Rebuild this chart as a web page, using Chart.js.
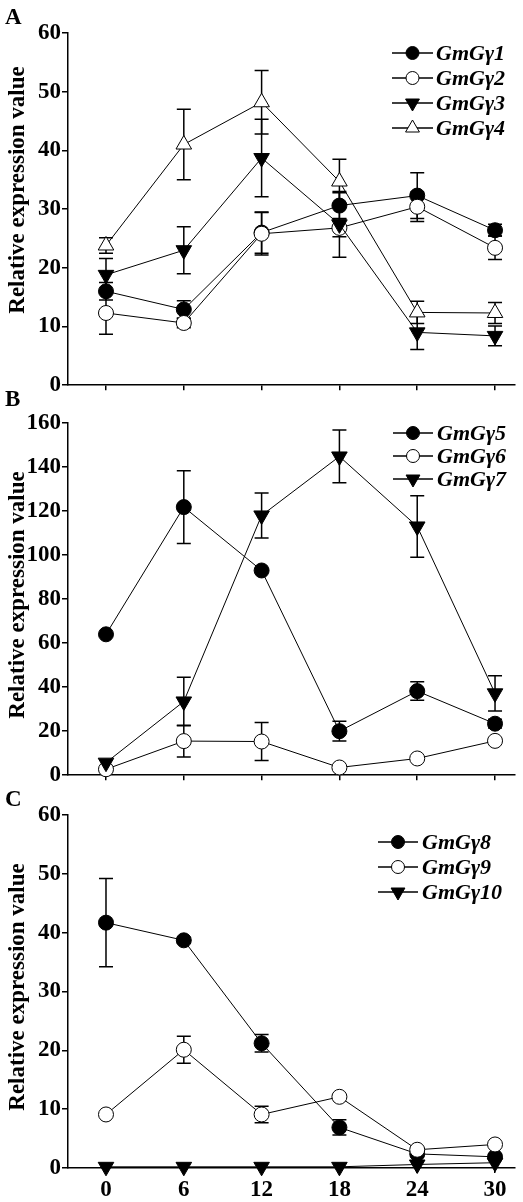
<!DOCTYPE html>
<html>
<head>
<meta charset="utf-8">
<script src="https://cdn.jsdelivr.net/npm/chart.js@4.4.0/dist/chart.umd.min.js"></script>
<style>
  html, body { margin: 0; padding: 0; background: #fff; }
  body { width: 523px; height: 1202px; position: relative; overflow: hidden; }
  .panel { position: absolute; left: 0; width: 523px; }
</style>
</head>
<body>
<div class="panel" style="top:0px;height:400px"><canvas id="chartA" width="523" height="400"></canvas></div>
<div class="panel" style="top:385px;height:405px"><canvas id="chartB" width="523" height="405"></canvas></div>
<div class="panel" style="top:775px;height:427px"><canvas id="chartC" width="523" height="427"></canvas></div>
<script>
// time points (x axis) shared by all panels
const timePoints = [0, 6, 12, 18, 24, 30];

// panel A
const namesA = ['GmGγ1', 'GmGγ2', 'GmGγ3', 'GmGγ4'];
const gamma1 = [16.0, 12.9, 26.0, 30.6, 32.3, 26.4];
const gamma1Err = [1.5, 1.5, 3.5, 2.2, 3.9, 1.0];
const gamma2 = [12.3, 10.6, 25.8, 26.8, 30.4, 23.4];
const gamma2Err = [3.6, 0.8, 3.6, 1.5, 2.5, 2.0];
const gamma3 = [18.8, 23.0, 38.7, 27.4, 9.0, 8.4];
const gamma3Err = [2.8, 4.0, 6.6, 5.6, 2.9, 1.7];
const gamma4 = [23.8, 41.0, 48.2, 34.7, 12.4, 12.3];
const gamma4Err = [1.3, 6.0, 5.4, 3.8, 1.9, 1.8];

// panel B
const namesB = ['GmGγ5', 'GmGγ6', 'GmGγ7'];
const gamma5 = [64.0, 121.8, 93.0, 20.0, 38.2, 23.4];
const gamma5Err = [0, 16.5, 0, 4.5, 4.2, 2.0];
const gamma6 = [2.7, 15.5, 15.3, 3.5, 7.6, 15.6];
const gamma6Err = [0, 7.2, 8.6, 0, 0, 0];
const gamma7 = [5.7, 33.5, 118.0, 144.8, 113.0, 37.2];
const gamma7Err = [0, 11.0, 10.2, 12.0, 14.0, 8.0];

// panel C
const namesC = ['GmGγ8', 'GmGγ9', 'GmGγ10'];
const gamma8 = [41.7, 38.7, 21.2, 6.9, 2.4, 1.9];
const gamma8Err = [7.5, 0.5, 1.5, 1.3, 0.5, 0.5];
const gamma9 = [9.1, 20.1, 9.1, 12.1, 3.1, 4.0];
const gamma9Err = [0, 2.3, 1.4, 0, 0, 0];
const gamma10 = [0.2, 0.2, 0.2, 0.2, 0.6, 0.9];
const gamma10Err = [0, 0, 0, 0, 0, 0];

const yTitle = 'Relative expression value';
const SERIF = '"Liberation Serif", "Times New Roman", serif';

// marker looks: filled circle, open circle, filled down-triangle, open up-triangle
const FILLED_DOT = { shape: 'circle', rotation: 0, fill: '#000', radius: 7.5 };
const OPEN_DOT = { shape: 'circle', rotation: 0, fill: '#fff', radius: 7.5 };
const DOWN_TRI = { shape: 'triangle', rotation: 180, fill: '#000', radius: 9 };
const UP_TRI = { shape: 'triangle', rotation: 0, fill: '#fff', radius: 9 };

function drawMarker(ctx, st, x, y, r) {
    ctx.save();
    ctx.beginPath();
    if (st.shape === 'circle') {
        ctx.arc(x, y, r, 0, Math.PI * 2);
    } else {
        let rad = st.rotation * Math.PI / 180;
        for (let k = 0; k < 3; k++) {
            const px = x + Math.sin(rad) * r;
            const py = y - Math.cos(rad) * r;
            if (k === 0) ctx.moveTo(px, py); else ctx.lineTo(px, py);
            rad += Math.PI * 2 / 3;
        }
        ctx.closePath();
    }
    ctx.fillStyle = st.fill;
    ctx.fill();
    ctx.lineWidth = 1;
    ctx.strokeStyle = '#000';
    ctx.stroke();
    ctx.restore();
}

// error bars, drawn under the lines and markers
const errorBarPlugin = {
    id: 'errorBars',
    beforeDatasetsDraw(chart) {
        const ctx = chart.ctx;
        const xs = chart.scales.x, ys = chart.scales.y;
        const errs = chart.options.errBars;
        ctx.save();
        ctx.strokeStyle = '#000';
        ctx.lineWidth = 1.5;
        chart.data.datasets.forEach((ds, i) => {
            ds.data.forEach((p, j) => {
                const e = errs[i][j];
                if (!e) return;
                const x = xs.getPixelForValue(p.x);
                const yt = ys.getPixelForValue(p.y + e);
                const yb = ys.getPixelForValue(Math.max(p.y - e, 0));
                ctx.beginPath();
                ctx.moveTo(x, yt); ctx.lineTo(x, yb);
                ctx.moveTo(x - 7, yt); ctx.lineTo(x + 7, yt);
                if (p.y - e > 0) { ctx.moveTo(x - 7, yb); ctx.lineTo(x + 7, yb); }
                ctx.stroke();
            });
        });
        ctx.restore();
    }
};

// legend with line + marker + italic name, panel letter and rotated y title
const textPlugin = {
    id: 'panelText',
    afterDraw(chart) {
        const ctx = chart.ctx;
        const o = chart.options.panel;
        ctx.save();
        ctx.fillStyle = '#000';
        ctx.font = 'bold 23px ' + SERIF;
        ctx.textAlign = 'left';
        ctx.textBaseline = 'alphabetic';
        ctx.fillText(o.letter, o.letterX, o.letterY);

        ctx.save();
        ctx.translate(o.titleX, o.titleY);
        ctx.rotate(-Math.PI / 2);
        ctx.textAlign = 'center';
        ctx.textBaseline = 'middle';
        ctx.font = 'bold 23px ' + SERIF;
        ctx.fillText(yTitle, 0, 0);
        ctx.restore();

        const lg = o.legend;
        chart.data.datasets.forEach((ds, i) => {
            const y = lg.y0 + i * lg.dy;
            ctx.beginPath();
            ctx.strokeStyle = '#000';
            ctx.lineWidth = 1.5;
            ctx.moveTo(lg.x1, y); ctx.lineTo(lg.x2, y);
            ctx.stroke();
            const st = o.styles[i];
            drawMarker(ctx, st, (lg.x1 + lg.x2) / 2, y, st.shape === 'circle' ? 6.5 : 8);
            ctx.font = 'italic bold 22px ' + SERIF;
            ctx.textAlign = 'left';
            ctx.textBaseline = 'middle';
            ctx.fillText(ds.label, lg.tx, y + 1);
        });
        ctx.restore();
    }
};

function makePanel(id, names, series, errs, styles, yMax, yStep, showXLabels, padTop, xHeight, panel) {
    const ctx = document.getElementById(id).getContext('2d');
    panel.styles = styles;
    return new Chart(ctx, {
        type: 'line',
        data: {
            datasets: names.map((name, i) => ({
                label: name,
                data: timePoints.map((t, j) => ({ x: t, y: series[i][j] })),
                borderColor: '#000',
                borderWidth: 1,
                pointStyle: styles[i].shape,
                rotation: styles[i].rotation,
                pointRadius: styles[i].radius,
                pointBackgroundColor: styles[i].fill,
                pointBorderColor: '#000',
                pointBorderWidth: 1,
                tension: 0,
                clip: false,
                order: names.length - i
            }))
        },
        options: {
            responsive: false,
            animation: false,
            events: [],
            errBars: errs,
            panel: panel,
            layout: { padding: { top: padTop, right: 8, left: 0, bottom: 0 }, autoPadding: false },
            plugins: { legend: { display: false }, tooltip: { enabled: false } },
            scales: {
                x: {
                    type: 'linear',
                    min: -2.93,
                    max: 31.54,
                    afterBuildTicks: s => { s.ticks = timePoints.map(v => ({ value: v })); },
                    afterFit: s => { s.height = xHeight; },
                    grid: { drawOnChartArea: false, drawTicks: true, tickLength: 5, color: '#000', lineWidth: 1.5 },
                    border: { display: true, color: '#000', width: 1.5 },
                    ticks: {
                        display: showXLabels,
                        color: '#000',
                        padding: 3,
                        maxRotation: 0,
                        font: { family: SERIF, size: 23, weight: 'bold' }
                    }
                },
                y: {
                    min: 0,
                    max: yMax,
                    afterFit: s => { s.width = 68; },
                    grid: { drawOnChartArea: false, drawTicks: true, tickLength: 6, color: '#000', lineWidth: 1.5 },
                    border: { display: true, color: '#000', width: 1.5 },
                    ticks: {
                        stepSize: yStep,
                        color: '#000',
                        padding: 1,
                        font: { family: SERIF, size: 23, weight: 'bold' }
                    }
                }
            }
        },
        plugins: [errorBarPlugin, textPlugin]
    });
}

makePanel('chartA', namesA,
    [gamma1, gamma2, gamma3, gamma4],
    [gamma1Err, gamma2Err, gamma3Err, gamma4Err],
    [FILLED_DOT, OPEN_DOT, DOWN_TRI, UP_TRI],
    60, 10, false, 33, 14,
    { letter: 'A', letterX: 5, letterY: 24, titleX: 18, titleY: 190,
      legend: { x1: 392, x2: 433, tx: 436, y0: 53, dy: 25 } });

makePanel('chartB', namesB,
    [gamma5, gamma6, gamma7],
    [gamma5Err, gamma6Err, gamma7Err],
    [FILLED_DOT, OPEN_DOT, DOWN_TRI],
    160, 20, false, 38, 14,
    { letter: 'B', letterX: 5, letterY: 21, titleX: 18, titleY: 210,
      legend: { x1: 393, x2: 433, tx: 437, y0: 48, dy: 23 } });

makePanel('chartC', namesC,
    [gamma8, gamma9, gamma10],
    [gamma8Err, gamma9Err, gamma10Err],
    [FILLED_DOT, OPEN_DOT, DOWN_TRI],
    60, 10, true, 40, 34,
    { letter: 'C', letterX: 5, letterY: 31, titleX: 18, titleY: 212,
      legend: { x1: 378, x2: 418, tx: 422, y0: 67, dy: 25 } });
</script>
</body>
</html>
